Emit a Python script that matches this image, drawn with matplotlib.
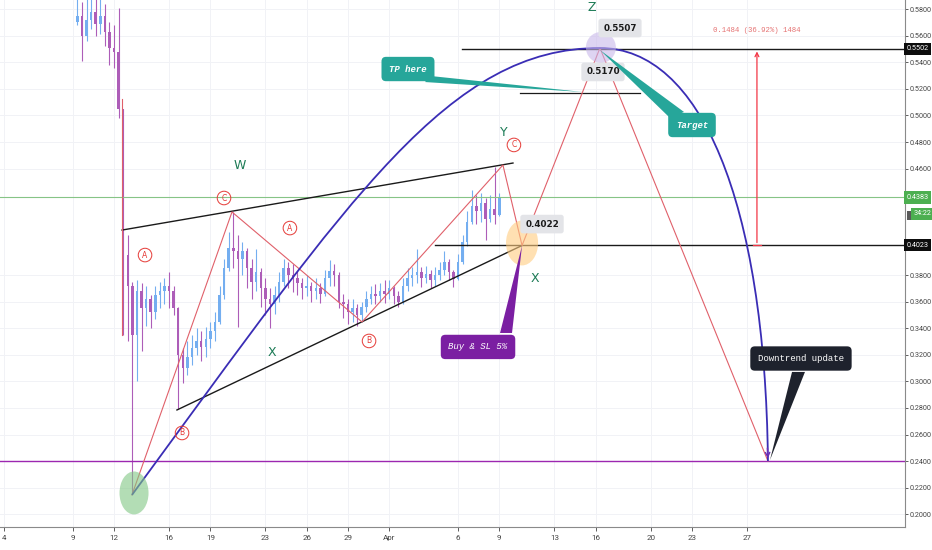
import matplotlib
matplotlib.use("Agg")
import matplotlib.pyplot as plt
from matplotlib.patches import Ellipse, Polygon, PathPatch, Rectangle
from matplotlib.path import Path

# ---------------- data (x = days since 1 March, y = price) ----------------
candle_first_day = 8.33
candle_step_days = 1 / 3
first_open = 0.570
closes = [0.575, 0.560, 0.572, 0.578, 0.569, 0.575, 0.563, 0.551, 0.548, 0.505,
          0.395, 0.372, 0.335, 0.368, 0.355, 0.362, 0.352, 0.365, 0.368, 0.372,
          0.368, 0.355, 0.320, 0.310, 0.318, 0.325, 0.330, 0.326, 0.332, 0.338,
          0.345, 0.365, 0.385, 0.400, 0.398, 0.392, 0.398, 0.385, 0.375, 0.382,
          0.370, 0.362, 0.358, 0.365, 0.375, 0.385, 0.380, 0.378, 0.374, 0.370,
          0.372, 0.368, 0.370, 0.366, 0.378, 0.383, 0.380, 0.360, 0.358, 0.352,
          0.355, 0.350, 0.356, 0.362, 0.366, 0.364, 0.368, 0.366, 0.370, 0.364,
          0.360, 0.372, 0.378, 0.380, 0.382, 0.378, 0.381, 0.376, 0.380, 0.384,
          0.390, 0.382, 0.377, 0.390, 0.405, 0.420, 0.432, 0.428, 0.434, 0.422,
          0.430, 0.425, 0.438]
highs = [0.592, 0.585, 0.590, 0.595, 0.590, 0.592, 0.584, 0.570, 0.568, 0.581,
         0.505, 0.410, 0.375, 0.376, 0.374, 0.372, 0.365, 0.372, 0.375, 0.378,
         0.382, 0.372, 0.356, 0.325, 0.330, 0.335, 0.340, 0.338, 0.341, 0.345,
         0.352, 0.372, 0.392, 0.412, 0.4275, 0.410, 0.405, 0.400, 0.392, 0.3995,
         0.385, 0.378, 0.370, 0.372, 0.382, 0.392, 0.390, 0.388, 0.383, 0.378,
         0.380, 0.375, 0.378, 0.374, 0.384, 0.391, 0.388, 0.382, 0.366, 0.362,
         0.362, 0.358, 0.360, 0.368, 0.372, 0.373, 0.374, 0.376, 0.376, 0.372,
         0.368, 0.378, 0.385, 0.386, 0.3995, 0.386, 0.387, 0.384, 0.386, 0.390,
         0.398, 0.392, 0.384, 0.396, 0.410, 0.428, 0.444, 0.440, 0.442, 0.438,
         0.440, 0.461, 0.442]
lows = [0.568, 0.541, 0.556, 0.565, 0.560, 0.561, 0.552, 0.538, 0.536, 0.498,
        0.335, 0.330, 0.215, 0.300, 0.323, 0.342, 0.340, 0.347, 0.355, 0.358,
        0.355, 0.350, 0.279, 0.299, 0.305, 0.312, 0.320, 0.315, 0.318, 0.325,
        0.330, 0.343, 0.362, 0.383, 0.385, 0.341, 0.380, 0.370, 0.362, 0.368,
        0.356, 0.350, 0.340, 0.351, 0.360, 0.372, 0.370, 0.367, 0.365, 0.362,
        0.364, 0.360, 0.362, 0.359, 0.364, 0.372, 0.372, 0.355, 0.348, 0.343,
        0.345, 0.342, 0.345, 0.352, 0.358, 0.358, 0.360, 0.359, 0.362, 0.358,
        0.356, 0.358, 0.368, 0.372, 0.374, 0.371, 0.374, 0.370, 0.372, 0.376,
        0.380, 0.376, 0.371, 0.376, 0.388, 0.402, 0.418, 0.418, 0.420, 0.406,
        0.420, 0.418, 0.424]

date_ticks = [3, 8, 11, 15, 18, 22, 25, 28, 31, 36, 39, 43, 46, 50, 53, 57]
date_labels = ["4", "9", "12", "16", "19", "23", "26", "29", "Apr",
               "6", "9", "13", "16", "20", "23", "27"]
price_ticks = [0.20, 0.22, 0.24, 0.26, 0.28, 0.30, 0.32, 0.34, 0.36, 0.38,
               0.46, 0.48, 0.50, 0.52, 0.54, 0.56, 0.58]

# Elliott wave zigzag (red)
wave_days = [12.30, 19.57, 29.02, 39.26, 40.65, 46.31, 58.52]
wave_prices = [0.2146, 0.4274, 0.3447, 0.4627, 0.4022, 0.5507, 0.2400]
drop_days = [11.58, 11.58]
drop_prices = [0.512, 0.335]

# channel (black)
upper_days = [11.58, 39.99]
upper_prices = [0.4138, 0.4642]
lower_days = [15.57, 40.65]
lower_prices = [0.2785, 0.4022]

# horizontal levels
level_target = 0.5502
level_entry = 0.4023
level_tp = 0.5170
level_last = 0.4383
level_bottom = 0.2400
target_from_day = 36.28
entry_from_day = 34.32
tp_days = [40.5, 49.22]

# arc (blue) as two cubic Bezier pieces
arc_left = [(12.30, 0.2146), (28.44, 0.4424), (35.41, 0.5507), (46.31, 0.5507)]
arc_right = [(46.31, 0.5507), (53.58, 0.5507), (58.31, 0.4364), (58.52, 0.2400)]

# measure
measure_day = 57.72
measure_text = "0.1484 (36.92%) 1484"
measure_text_price = 0.5642

wave_labels = [("W", 20.15, 0.4627), ("X", 22.48, 0.3220), ("Y", 39.34, 0.4875),
               ("X", 41.59, 0.3777), ("Z", 45.73, 0.5815)]
circled_labels = [("A", 13.25, 0.3950), ("C", 18.99, 0.4379), ("A", 23.78, 0.4153),
                  ("B", 15.94, 0.2612), ("B", 29.53, 0.3304), ("C", 40.06, 0.4778)]

price_boxes = [("0.5507", 47.77, 0.5657), ("0.5170", 46.53, 0.5327), ("0.4022", 42.10, 0.4183)]

# ---------------- figure ----------------
W, H = 932, 550
fig = plt.figure(figsize=(W / 100, H / 100), dpi=100)
ax = fig.add_axes([0, 23 / H, 905 / W, 527 / H])
ax.set_xlim(2.71, 68.48)
ax.set_ylim(0.1905, 0.5868)

# grid
for t in price_ticks:
    ax.axhline(t, color="#f1f2f6", lw=0.7, zorder=0)
for t in date_ticks:
    ax.axvline(t, color="#f1f2f6", lw=0.7, zorder=0)

# candles
n = len(closes)
days = [candle_first_day + i * candle_step_days for i in range(n)]
opens = [first_open] + closes[:-1]
up_c, dn_c = "#74aef0", "#ad5db8"
for d, o, c, h, l in zip(days, opens, closes, highs, lows):
    col = up_c if c >= o else dn_c
    ax.vlines(d, min(l, o, c), max(h, o, c), color=col, lw=0.8, zorder=2)
    ax.bar(d, max(abs(c - o), 0.0012), bottom=min(o, c), width=0.18,
           color=col, lw=0, zorder=2)

# horizontal levels
ax.axhline(level_last, color="#86c486", lw=0.8, zorder=3)
ax.axhline(level_bottom, color="#9c27b0", lw=1.0, zorder=3)
ax.plot([target_from_day, 68.48], [level_target] * 2, color="#1a1a1a", lw=1.0, zorder=4)
ax.plot([entry_from_day, 68.48], [level_entry] * 2, color="#1a1a1a", lw=1.0, zorder=4)
ax.plot(tp_days, [level_tp] * 2, color="#1a1a1a", lw=0.9, zorder=4)

# channel
ax.plot(upper_days, upper_prices, color="#1a1a1a", lw=1.0, zorder=4)
ax.plot(lower_days, lower_prices, color="#1a1a1a", lw=1.0, zorder=4)

# red zigzag
ax.plot(wave_days, wave_prices, color="#e0606a", lw=0.8, zorder=4)
ax.plot(drop_days, drop_prices, color="#e0606a", lw=0.8, zorder=4)

# blue arc
codes = [Path.MOVETO, Path.CURVE4, Path.CURVE4, Path.CURVE4,
         Path.CURVE4, Path.CURVE4, Path.CURVE4]
verts = arc_left + arc_right[1:]
ax.add_patch(PathPatch(Path(verts, codes), fc="none", ec="#3a2db5", lw=1.3, zorder=5))
ax.annotate("", xy=arc_right[-1], xytext=(arc_right[-1][0] - 0.05, arc_right[-1][1] + 0.012),
            arrowprops=dict(arrowstyle="->", color="#6a2db5", lw=1.0,
                            mutation_scale=8), zorder=6)

# measure arrow
ax.annotate("", xy=(measure_day, level_target), xytext=(measure_day, level_entry),
            arrowprops=dict(arrowstyle="->", color="#f23645", lw=0.9, mutation_scale=7),
            zorder=5)
ax.plot([measure_day - 0.3, measure_day + 0.3], [level_entry] * 2, color="#f23645", lw=0.9, zorder=5)
ax.text(measure_day, measure_text_price, measure_text, ha="center", va="center",
        fontsize=5.3, family="Liberation Mono", color="#e57373", zorder=6)

# translucent circles
ax.add_patch(Ellipse((12.45, 0.2161), 2.11, 0.0323, fc="#81c784", alpha=0.6, lw=0, zorder=6))
ax.add_patch(Ellipse((40.65, 0.4041), 2.33, 0.0338, fc="#ffcc80", alpha=0.6, lw=0, zorder=6))
ax.add_patch(Ellipse((46.38, 0.5511), 2.18, 0.0233, fc="#c9b8ea", alpha=0.6, lw=0, zorder=6))

# wave labels
for s, x, y in wave_labels:
    ax.text(x, y, s, ha="center", va="center", fontsize=9, color="#1b7a55", zorder=7)
for s, x, y in circled_labels:
    ax.text(x, y, s, ha="center", va="center", fontsize=5.5, color="#e53935", zorder=7,
            bbox=dict(boxstyle="circle,pad=0.3", fc="none", ec="#e53935", lw=0.7))

# price boxes
for s, x, y in price_boxes:
    ax.text(x, y, s, ha="center", va="center", fontsize=6.3, weight="bold",
            color="#1a1a1a", zorder=8,
            bbox=dict(boxstyle="round,pad=0.55,rounding_size=0.3", fc="#e3e4e8", ec="none"))

# callouts
def callout(text, center, base1, base2, tip, color, style="italic", weight="bold"):
    ax.add_patch(Polygon([base1, base2, tip], closed=True, fc=color, ec="none", zorder=8))
    ax.text(center[0], center[1], text, ha="center", va="center", fontsize=6.5,
            family="Liberation Mono", style=style, weight=weight, color="white", zorder=9,
            bbox=dict(boxstyle="round,pad=0.85,rounding_size=0.5", fc=color, ec="none"))

callout("TP here", (32.36, 0.5349), (33.96, 0.5297), (33.60, 0.5251), (45.08, 0.5176), "#26a69a")
callout("Target", (53.0, 0.4928), (51.40, 0.4981), (52.42, 0.5026), (46.31, 0.5492), "#26a69a")
callout("Buy & SL 5%", (37.45, 0.3259), (39.05, 0.3364), (39.92, 0.3364), (40.65, 0.4022),
        "#7b1fa2", weight="normal")
callout("Downtrend update", (60.92, 0.3172), (60.27, 0.3071), (61.21, 0.3071), (58.67, 0.2409),
        "#1e222d", style="normal", weight="normal")

# axes styling
for s in ["left", "top"]:
    ax.spines[s].set_visible(False)
for s in ["right", "bottom"]:
    ax.spines[s].set_color("#8a8a8a")
    ax.spines[s].set_linewidth(0.8)
ax.yaxis.tick_right()
ax.set_yticks(price_ticks)
ax.set_yticklabels([f"{t:.4f}" for t in price_ticks])
ax.set_xticks(date_ticks)
ax.set_xticklabels(date_labels)
ax.tick_params(axis="y", labelsize=5.2, colors="#444444", length=2.5, pad=1.0, width=0.6)
ax.tick_params(axis="x", labelsize=5.8, colors="#444444", length=3, pad=3, width=0.6)
for lab in ax.get_yticklabels() + ax.get_xticklabels():
    lab.set_fontfamily("Roboto")

# right-axis tags
trans = ax.get_yaxis_transform()
ax.add_patch(Rectangle((1.002, 0.4214), 0.027, 0.0066, transform=trans, fc="#5a5a5a",
                       ec="none", clip_on=False, zorder=9))
tags = [("0.5502", level_target, "#0d0d0d", 1.002),
        ("0.4383", level_last, "#4caf50", 1.002),
        ("34:22", 0.4262, "#4caf50", 1.009),
        ("0.4023", level_entry, "#0d0d0d", 1.002)]
for s, y, col, x in tags:
    ax.text(x, y, s, transform=trans, ha="left", va="center", fontsize=5.2,
            family="Roboto", color="white", zorder=10, clip_on=False,
            bbox=dict(boxstyle="square,pad=0.35", fc=col, ec="none"))

fig.savefig("out.png", dpi=100, facecolor="white")
